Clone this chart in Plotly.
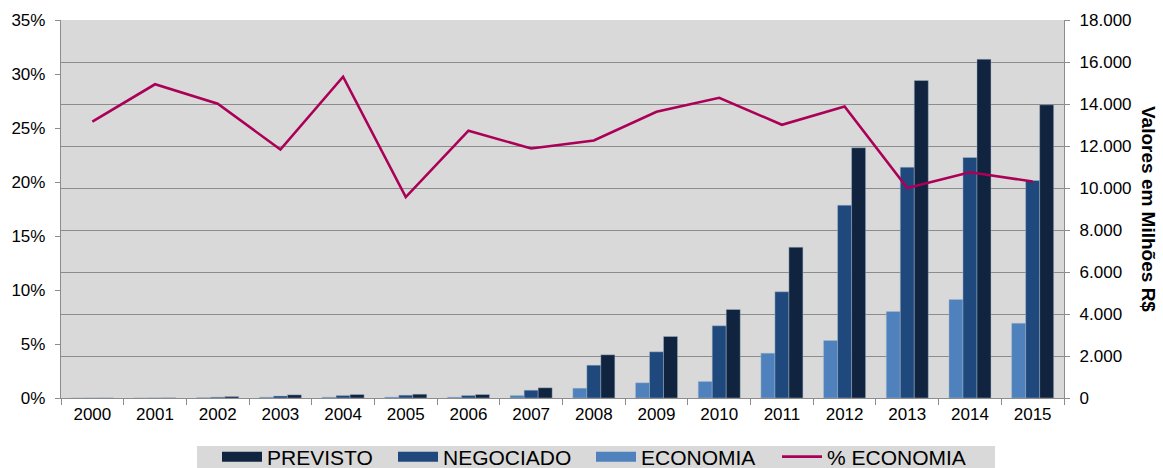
import plotly.graph_objects as go

# Valores anuais (milhões de R$) e percentual de economia
anos = ["2000", "2001", "2002", "2003", "2004", "2005", "2006", "2007",
        "2008", "2009", "2010", "2011", "2012", "2013", "2014", "2015"]
previsto = [5, 8, 70, 150, 165, 180, 165, 486,
            2057, 2929, 4214, 7181, 11914, 15119, 16133, 13960]
negociado = [3, 5, 40, 95, 120, 135, 120, 370,
             1562, 2200, 3438, 5057, 9181, 10990, 11452, 10357]
economia = [1, 2, 20, 40, 40, 45, 40, 120,
            467, 724, 786, 2133, 2738, 4119, 4690, 3562]
pct_economia = [0.256, 0.2905, 0.2725, 0.230, 0.2975, 0.186, 0.2475, 0.231,
                0.2385, 0.265, 0.278, 0.253, 0.270, 0.1945, 0.209, 0.2005]

C_PREV = "#10243F"
C_NEG = "#1F497D"
C_ECO = "#4F81BD"
C_LINE = "#AA0057"
GRID = "#8C8C8C"
FONT = "Liberation Sans, Arial, sans-serif"

# plot area geometry in pixels
W, H = 1163, 468
L, R, T, B = 61, 99, 20, 70
PW, PH = W - L - R, H - T - B


def px_x(x):
    return (x - L) / PW


def px_y(y):
    return (H - B - y) / PH


fig = go.Figure()

bar_line = dict(color="rgba(170,185,205,0.55)", width=0.8)
for nome, vals, cor in [("ECONOMIA", economia, C_ECO),
                        ("NEGOCIADO", negociado, C_NEG),
                        ("PREVISTO", previsto, C_PREV)]:
    fig.add_trace(go.Bar(x=anos, y=vals, name=nome, marker=dict(color=cor, line=bar_line),
                         yaxis="y", showlegend=False, legendgroup=nome))

# Entradas de legenda com amostras retangulares largas, cada uma em sua posição
legend_items = [("PREVISTO", C_PREV, 10, 217), ("NEGOCIADO", C_NEG, 10, 393),
                ("ECONOMIA", C_ECO, 10, 591)]
legends = {}
for i, (nome, cor, lw, xpos) in enumerate(legend_items):
    key = "legend" if i == 0 else f"legend{i + 1}"
    fig.add_trace(go.Scatter(x=[None], y=[None], mode="lines", name=nome,
                             line=dict(color=cor, width=lw), legendgroup=nome,
                             yaxis="y", hoverinfo="skip",
                             legend=key if i else "legend"))
    legends[key] = xpos

fig.add_trace(go.Scatter(x=anos, y=pct_economia, mode="lines", name="% ECONOMIA",
                         line=dict(color=C_LINE, width=2.6), yaxis="y2", legend="legend4"))
legends["legend4"] = 777

legend_layout = {}
for key, xpos in legends.items():
    legend_layout[key] = dict(orientation="h", x=px_x(xpos), xanchor="left",
                              y=px_y(457), yanchor="middle",
                              bgcolor="rgba(0,0,0,0)", borderwidth=0,
                              font=dict(size=21, family=FONT, color="#000000"),
                              itemwidth=40)

fig.update_layout(
    width=W, height=H,
    margin=dict(l=L, r=R, t=T, b=B, autoexpand=False),
    paper_bgcolor="white",
    plot_bgcolor="#D9D9D9",
    separators=",.",
    barmode="group", bargap=0.33, bargroupgap=0,
    font=dict(family=FONT, size=17, color="#000000"),
    xaxis=dict(type="category", showline=True, linecolor="#8C8C8C", linewidth=1.3,
               ticks="outside", tickson="boundaries", ticklen=6, tickcolor="#8C8C8C",
               showgrid=False, tickfont=dict(size=17), range=[-0.5, 15.5]),
    yaxis=dict(side="right", range=[0, 18000], dtick=2000, tickformat=",d",
               showgrid=True, gridcolor=GRID, gridwidth=1.3, zeroline=False,
               showline=True, linecolor="#8C8C8C", linewidth=1.3,
               ticks="outside", ticklen=5, tickcolor="#8C8C8C",
               ticklabelstandoff=6, tickfont=dict(size=17)),
    yaxis2=dict(side="left", overlaying="y", range=[0, 0.35], dtick=0.05, tickformat=".0%",
                showgrid=False, zeroline=False, showline=True, linecolor="#8C8C8C",
                linewidth=1.3, ticks="outside", ticklen=5, tickcolor="#8C8C8C",
                ticklabelstandoff=6, tickfont=dict(size=17)),
    shapes=[dict(type="rect", xref="paper", yref="paper", layer="below",
                 x0=px_x(197), x1=px_x(995), y0=px_y(468), y1=px_y(446),
                 fillcolor="#D9D9D9", line=dict(width=0))],
    annotations=[dict(text="<b>Valores em Milhões R$</b>", textangle=90,
                      xref="paper", yref="paper", x=px_x(1149), y=px_y(209),
                      xanchor="center", yanchor="middle", showarrow=False,
                      font=dict(size=19, family=FONT, color="#000000"))],
    **legend_layout,
)

fig.write_html("out.html")
